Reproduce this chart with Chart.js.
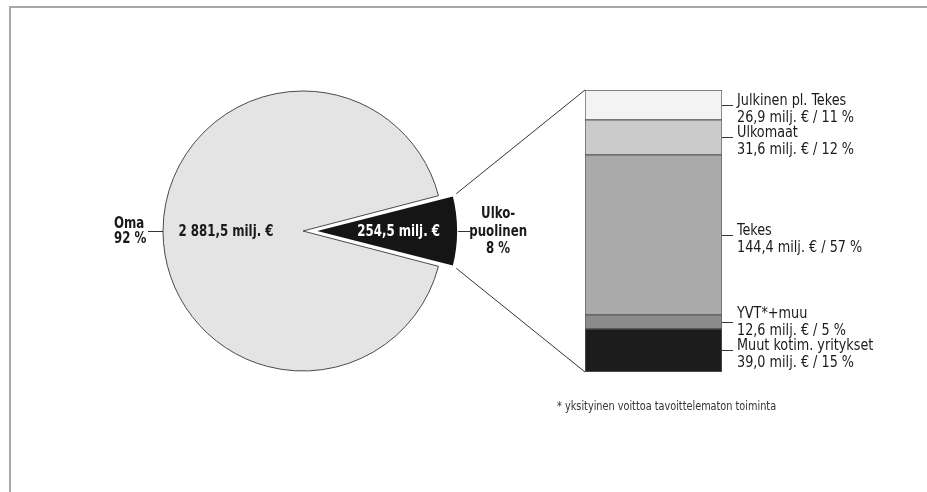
<!DOCTYPE html>
<html>
<head>
<meta charset="utf-8">
<script src="https://cdn.jsdelivr.net/npm/chart.js@4"></script>
<style>
  html, body { margin: 0; padding: 0; background: #fff; }
  #wrap { position: relative; width: 927px; height: 492px; overflow: hidden; }
  #frame { position: absolute; left: 9px; top: 6px; right: -10px; bottom: -10px;
           border-top: 2px solid #a8a8a8; border-left: 2px solid #a8a8a8; }
  canvas { position: absolute; left: 0; top: 0; }
</style>
</head>
<body>
<div id="wrap">
  <div id="frame"></div>
  <canvas id="pie" width="927" height="492"></canvas>
  <canvas id="bar" width="927" height="492"></canvas>
</div>
<script>
const FONT = '"Liberation Sans Narrow", "DejaVu Sans Condensed", "Roboto Condensed", "Liberation Sans", sans-serif';

// Pie: own vs external funding, milj. €
const pieNames = [["Ulko-", "puolinen"], ["Oma"]];
const pieValues = [254.5, 2881.5];
const pieColors = ["#151515", "#e4e4e4"];

// Bar: breakdown of the external part, bottom to top
const barNames = ["Muut kotim. yritykset", "YVT*+muu", "Tekes", "Ulkomaat", "Julkinen pl. Tekes"];
const barValues = [39.0, 12.6, 144.4, 31.6, 26.9];
const barColors = ["#1c1c1c", "#8b8b8b", "#aaaaaa", "#cbcbcb", "#f3f3f3"];

const footnote = "* yksityinen voittoa tavoittelematon toiminta";

const pieTotal = pieValues.reduce((a, b) => a + b, 0);
const barTotal = barValues.reduce((a, b) => a + b, 0);

function fmt(v) {
  const [i, d] = v.toFixed(1).split(".");
  return i.replace(/\B(?=(\d{3})+(?!\d))/g, " ") + "," + d;
}
function pct(v, total) {
  return Math.round(v / total * 100) + " %";
}
// the original uses a narrow face, squeeze the text a bit
function txt(ctx, s, x, y, align, sx) {
  ctx.save();
  ctx.translate(x, y);
  ctx.scale(sx, 1);
  ctx.textAlign = align;
  ctx.fillText(s, 0, 0);
  ctx.restore();
}

// labels + ticks to the right of the stacked bar
const barLabelsPlugin = {
  id: "barLabels",
  afterDatasetsDraw(chart) {
    const ctx = chart.ctx;
    const items = chart.data.datasets.map((ds, i) => {
      const el = chart.getDatasetMeta(i).data[0];
      return { i, mid: (el.y + el.base) / 2, right: el.x + el.width / 2 };
    });
    // first line baseline near the tick, pushed up if it runs into the one below
    let limit = Infinity;
    items.forEach(it => {
      it.b1 = Math.min(it.mid, limit);
      limit = it.b1 - 32;
    });
    ctx.save();
    ctx.strokeStyle = "#333";
    ctx.lineWidth = 1;
    ctx.fillStyle = "#1a1a1a";
    ctx.font = "16px " + FONT;
    ctx.textBaseline = "alphabetic";
    items.forEach(it => {
      ctx.beginPath();
      ctx.moveTo(it.right, Math.round(it.mid) + 0.5);
      ctx.lineTo(it.right + 11, Math.round(it.mid) + 0.5);
      ctx.stroke();
      const v = barValues[it.i];
      txt(ctx, barNames[it.i], it.right + 15, it.b1, "left", 0.89);
      txt(ctx, fmt(v) + " milj. € / " + pct(v, barTotal), it.right + 15, it.b1 + 17, "left", 0.89);
    });
    const el = chart.getDatasetMeta(0).data[0];
    ctx.font = "12px " + FONT;
    ctx.fillStyle = "#333";
    txt(ctx, footnote, el.x - el.width / 2 - 28, el.base + 38, "left", 0.9);
    ctx.restore();
  }
};

const barChart = new Chart(document.getElementById("bar"), {
  type: "bar",
  data: {
    labels: ["Ulkopuolinen"],
    datasets: barNames.map((name, i) => ({
      label: name,
      data: [barValues[i]],
      backgroundColor: barColors[i],
      borderColor: "#5a5a5a",
      borderWidth: 1,
      borderSkipped: false,
      barPercentage: 1,
      categoryPercentage: 1
    }))
  },
  options: {
    responsive: false,
    animation: false,
    events: [],
    layout: { padding: { left: 585, right: 927 - 722, top: 90, bottom: 492 - 372 } },
    scales: {
      x: { stacked: true, display: false },
      y: { stacked: true, display: false, min: 0, max: barTotal }
    },
    plugins: { legend: { display: false }, tooltip: { enabled: false } }
  },
  plugins: [barLabelsPlugin]
});

const EXT_OFFSET = 40; // Chart.js v4 moves the arc by offset / 4

// pie labels, leader lines and the lines over to the bar
const pieLabelsPlugin = {
  id: "pieLabels",
  afterDatasetsDraw(chart) {
    const ctx = chart.ctx;
    const arcs = chart.getDatasetMeta(0).data;
    const ext = arcs[0], own = arcs[1];
    const cx = own.x, cy = own.y, R = own.outerRadius;
    const shift = EXT_OFFSET / 4;
    const extMid = (ext.startAngle + ext.endAngle) / 2;
    const sweep = ext.endAngle - ext.startAngle;
    const extR = R + shift * (1 - Math.sin(Math.min(Math.PI, sweep)));
    const ax = cx + Math.cos(extMid) * shift, ay = cy + Math.sin(extMid) * shift;
    const ownMid = (own.startAngle + own.endAngle) / 2;

    ctx.save();
    ctx.textBaseline = "alphabetic";
    ctx.font = "bold 16px " + FONT;
    const SX = 0.82;

    // value labels inside slices
    ctx.fillStyle = "#1a1a1a";
    txt(ctx, fmt(pieValues[1]) + " milj. €", cx + Math.cos(ownMid) * R * 0.55, cy + 5, "center", SX);
    ctx.fillStyle = "#ffffff";
    txt(ctx, fmt(pieValues[0]) + " milj. €", ax + Math.cos(extMid) * extR * 0.59, cy + 5, "center", SX);

    ctx.strokeStyle = "#333";
    ctx.lineWidth = 1;
    // left leader + "Oma"
    const lx = cx - R;
    ctx.beginPath();
    ctx.moveTo(lx - 15, cy + 0.5);
    ctx.lineTo(lx, cy + 0.5);
    ctx.stroke();
    ctx.fillStyle = "#1a1a1a";
    txt(ctx, pieNames[1][0], lx - 49, cy - 3, "left", SX);
    txt(ctx, pct(pieValues[1], pieTotal), lx - 49, cy + 12, "left", SX);

    // right leader + "Ulkopuolinen"
    const rx = ax + extR;
    ctx.beginPath();
    ctx.moveTo(rx, cy + 0.5);
    ctx.lineTo(rx + 12, cy + 0.5);
    ctx.stroke();
    txt(ctx, pieNames[0][0], rx + 40, cy - 13, "center", SX);
    txt(ctx, pieNames[0][1], rx + 40, cy + 5, "center", SX);
    txt(ctx, pct(pieValues[0], pieTotal), rx + 40, cy + 22, "center", SX);

    // lines from the slice corners to the bar
    const bar = barChart.getDatasetMeta(0).data[0];
    const bx = bar.x - bar.width / 2;
    const yTop = barChart.scales.y.getPixelForValue(barTotal);
    const yBot = barChart.scales.y.getPixelForValue(0);
    [[ext.startAngle, yTop], [ext.endAngle, yBot]].forEach(([a, y]) => {
      ctx.beginPath();
      ctx.moveTo(ax + Math.cos(a) * (extR + 3), ay + Math.sin(a) * (extR + 3));
      ctx.lineTo(bx, y);
      ctx.stroke();
    });
    ctx.restore();
  }
};

const extSweep = pieValues[0] / pieTotal * 360;

const pieChart = new Chart(document.getElementById("pie"), {
  type: "pie",
  data: {
    labels: pieNames.map(n => n.join("")),
    datasets: [{
      data: pieValues,
      backgroundColor: pieColors,
      borderColor: ["#ffffff", "#4a4a4a"],
      borderWidth: [2, 1],
      offset: [EXT_OFFSET, 0]
    }]
  },
  options: {
    responsive: false,
    animation: false,
    events: [],
    rotation: 90 - extSweep / 2,
    radius: 140,
    layout: { padding: { left: 0, top: 0, right: 927 - 2 * 303, bottom: 492 - 2 * 231 } },
    plugins: { legend: { display: false }, tooltip: { enabled: false } }
  },
  plugins: [pieLabelsPlugin]
});
</script>
</body>
</html>
